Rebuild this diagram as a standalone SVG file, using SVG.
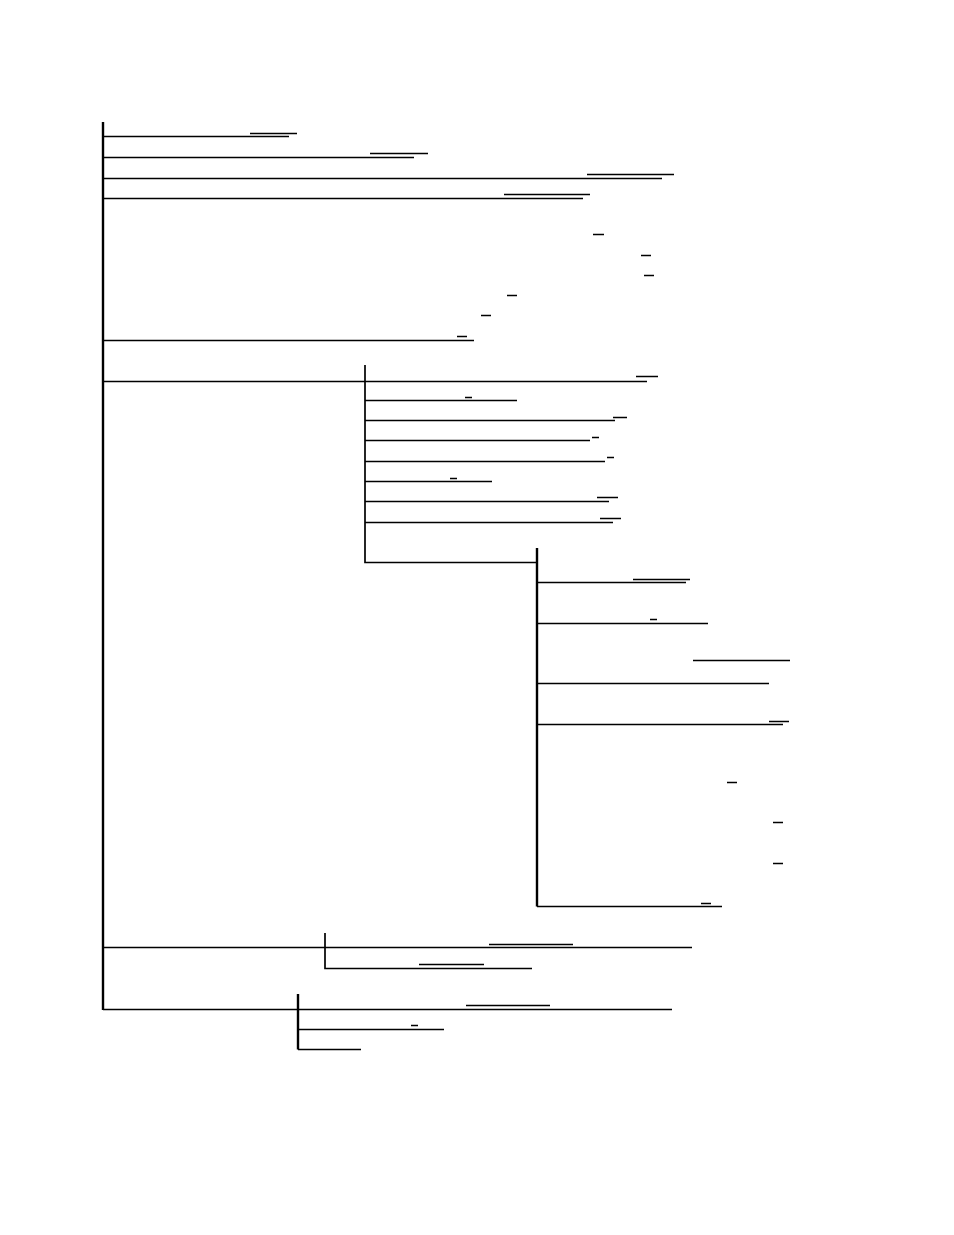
<svg xmlns="http://www.w3.org/2000/svg" width="954" height="1235" viewBox="0 0 954 1235">
<style>
  .c { stroke: #000; stroke-width: 1.7; fill: none; }
  .t { stroke: #000; stroke-width: 2.4; fill: none; }
  .m { stroke: #000; stroke-width: 1.7; fill: none; }
</style>
<rect width="954" height="1235" fill="#fff"/>
<g id="connectors">
  <!-- root spine -->
  <path class="t" d="M103 122 V1010"/>
  <path class="c" d="M103 136.5 H289 M103 157.5 H414 M103 178.5 H662 M103 198.5 H583 M103 340.5 H474 M103 381.5 H647 M103 947.5 H692 M103 1009.5 H672"/>
  <!-- subtree at 365 -->
  <path class="c" d="M365 365 V562.5 H537"/>
  <path class="c" d="M365 400.5 H517 M365 420.5 H615 M365 440.5 H590 M365 461.5 H605 M365 481.5 H492 M365 501.5 H609 M365 522.5 H613"/>
  <!-- subtree at 537 -->
  <path class="t" d="M537 548 V906.5"/>
  <path class="c" d="M537 582.5 H686 M537 623.5 H708 M537 683.5 H769 M537 724.5 H783 M537 906.5 H722"/>
  <!-- subtree at 325 -->
  <path class="c" d="M325 933 V968.5 H532"/>
  <!-- subtree at 298 -->
  <path class="t" d="M298 994 V1049.5"/>
  <path class="c" d="M298 1029.5 H444 M298 1049.5 H361"/>
</g>
<g id="marks">
  <path class="m" d="M250 133.5 H297 M370 153.5 H428 M587 174.5 H674 M504 194.5 H590"/>
  <path class="m" d="M593 234.5 H604 M641 255.5 H651 M644 275.5 H654 M507 295.5 H517 M481 315.5 H491 M457 336.5 H467"/>
  <path class="m" d="M636 376.5 H658 M465 397.5 H472 M613 417.5 H627 M592 437.5 H599 M607 457.5 H614 M450 478.5 H457 M597 497.5 H618 M600 518.5 H621"/>
  <path class="m" d="M633 579.5 H690 M650 619.5 H657 M693 660.5 H790 M769 721.5 H789"/>
  <path class="m" d="M727 782.5 H737 M773 822.5 H783 M773 863.5 H783 M701 903.5 H711"/>
  <path class="m" d="M489 944.5 H573 M419 964.5 H484 M466 1005.5 H550 M411 1025.5 H418"/>
</g>
</svg>
